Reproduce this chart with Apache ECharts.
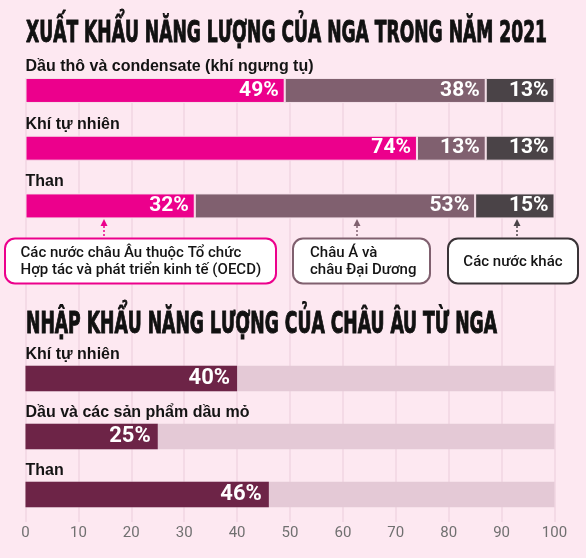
<!DOCTYPE html>
<html><head><meta charset="utf-8">
<script src="https://cdn.jsdelivr.net/npm/echarts@6/dist/echarts.min.js"></script>
<style>html,body{margin:0;padding:0;background:#FDE8F1}#c{width:586px;height:558px}</style>
</head><body><div id="c"></div><script>
// ---- data ----
const title1 = 'XUẤT KHẨU NĂNG LƯỢNG CỦA NGA TRONG NĂM 2021';
const title2 = 'NHẬP KHẨU NĂNG LƯỢNG CỦA CHÂU ÂU TỪ NGA';
const exportCategories = ['Dầu thô và condensate (khí ngưng tụ)', 'Khí tự nhiên', 'Than'];
const exportOECD = [49, 74, 32];
const exportAsia = [38, 13, 53];
const exportOther = [13, 13, 15];
const seriesNames = ['Các nước châu Âu thuộc Tổ chức\nHợp tác và phát triển kinh tế (OECD)', 'Châu Á và\nchâu Đại Dương', 'Các nước khác'];
const importCategories = ['Khí tự nhiên', 'Dầu và các sản phẩm dầu mỏ', 'Than'];
const importShare = [40, 25, 46];
const axisMin = 0, axisMax = 100, axisStep = 10;

// ---- style ----
const C = {
  bg: '#FDE8F1', pink: '#EC008C', mauve: '#80606F', dark: '#4A4347',
  imp: '#6D2447', impBg: '#E4C9D6', grid: '#F0D6E2', text: '#141414', axis: '#707070'
};
const L = 25.5, R = 31.5;
const titleFont = '"Liberation Sans Narrow","DejaVu Sans Condensed",sans-serif';
function fitScale(txt, size, target) {
  const cv = document.createElement('canvas').getContext('2d');
  cv.font = 'bold ' + size + 'px ' + titleFont;
  return target / cv.measureText(txt).width;
}

const chart = echarts.init(document.getElementById('c'));
const catAxis = (gi, cats) => ({
  type: 'category', gridIndex: gi, data: cats, inverse: true,
  axisLine: {show: false}, axisTick: {show: false}, splitLine: {show: false},
  axisLabel: {inside: true, margin: 0, verticalAlign: 'bottom', padding: [0, 0, 16, 0],
    lineHeight: 16, fontSize: 16, fontWeight: 'bold', fontFamily: '"Liberation Sans"', color: C.text}
});
const valAxis = (gi) => ({type: 'value', gridIndex: gi, min: axisMin, max: axisMax, interval: axisStep, show: false});
const lbl = (size, dist) => ({show: true, position: 'insideRight', distance: dist, formatter: '{c}%',
  color: '#fff', fontSize: size, fontWeight: 'bold', fontFamily: 'Roboto'});
const sep = {borderColor: '#F6E2EB', borderWidth: 1};

function arrow(x, color) {
  return [
    {type: 'polygon', z: 100, shape: {points: [[x, 219], [x - 3.5, 226], [x + 3.5, 226]]}, style: {fill: color}},
    {type: 'line', z: 100, shape: {x1: x, y1: 226, x2: x, y2: 238}, style: {stroke: color, lineWidth: 1.5, lineDash: [2, 2]}}
  ];
}
function box(x, w, color, txt, tx, ty, align) {
  return [
    {type: 'rect', z: 100, shape: {x: x, y: 238.5, width: w, height: 45, r: 10}, style: {fill: '#fff', stroke: color, lineWidth: 2}},
    {type: 'text', z: 101, x: tx, y: ty, style: {text: txt, fontSize: 15, fontWeight: 500, fontFamily: 'Roboto', fill: C.text,
      lineHeight: 17.5, align: align || 'left', verticalAlign: 'middle'}}
  ];
}
function title(txt, y, w) {
  return {type: 'text', z: 100, x: 26, y: y, scaleX: fitScale(txt, 30, w), style: {text: txt, fontSize: 30, fontWeight: 'bold',
    fontFamily: titleFont, fill: '#111', stroke: '#111', lineWidth: 1, verticalAlign: 'middle'}};
}

const option = {
  backgroundColor: C.bg,
  animation: false,
  grid: [
    {left: L, right: R, top: 61.6, height: 173.2},
    {left: L, right: R, top: 349.4, height: 174},
    {left: L, right: R, top: 78, height: 444}
  ],
  xAxis: [valAxis(0), valAxis(1), {
    type: 'value', gridIndex: 2, min: axisMin, max: axisMax, interval: axisStep, z: 0,
    axisLine: {show: false}, axisTick: {show: false},
    splitLine: {show: true, lineStyle: {color: C.grid, width: 1.5}},
    axisLabel: {margin: 4, fontSize: 15, color: C.axis, fontFamily: 'Roboto'}
  }],
  yAxis: [catAxis(0, exportCategories), catAxis(1, importCategories), {type: 'value', gridIndex: 2, show: false}],
  series: [
    {name: seriesNames[0], type: 'bar', stack: 'e', xAxisIndex: 0, yAxisIndex: 0, barWidth: 25, data: exportOECD,
      itemStyle: Object.assign({color: C.pink}, sep), label: lbl(21, 6)},
    {name: seriesNames[1], type: 'bar', stack: 'e', xAxisIndex: 0, yAxisIndex: 0, barWidth: 25, data: exportAsia,
      itemStyle: Object.assign({color: C.mauve}, sep), label: lbl(21, 6)},
    {name: seriesNames[2], type: 'bar', stack: 'e', xAxisIndex: 0, yAxisIndex: 0, barWidth: 25, data: exportOther,
      itemStyle: Object.assign({color: C.dark}, sep), label: lbl(21, 6)},
    {name: 'Nhập khẩu', type: 'bar', xAxisIndex: 1, yAxisIndex: 1, barWidth: 25.5, data: importShare,
      showBackground: true, backgroundStyle: {color: C.impBg},
      itemStyle: {color: C.imp}, label: lbl(22, 7)}
  ],
  graphic: [
    title(title1, 34.5, 521),
    title(title2, 325, 471),
    ...arrow(104, C.pink), ...arrow(357, C.mauve), ...arrow(517, C.dark),
    ...box(5, 271, C.pink, seriesNames[0], 20.5, 261.5),
    ...box(293, 137, C.mauve, seriesNames[1], 310, 261.5),
    ...box(448, 130, '#3A3337', seriesNames[2], 513, 262, 'center')
  ]
};
chart.setOption(option);
</script></body></html>
